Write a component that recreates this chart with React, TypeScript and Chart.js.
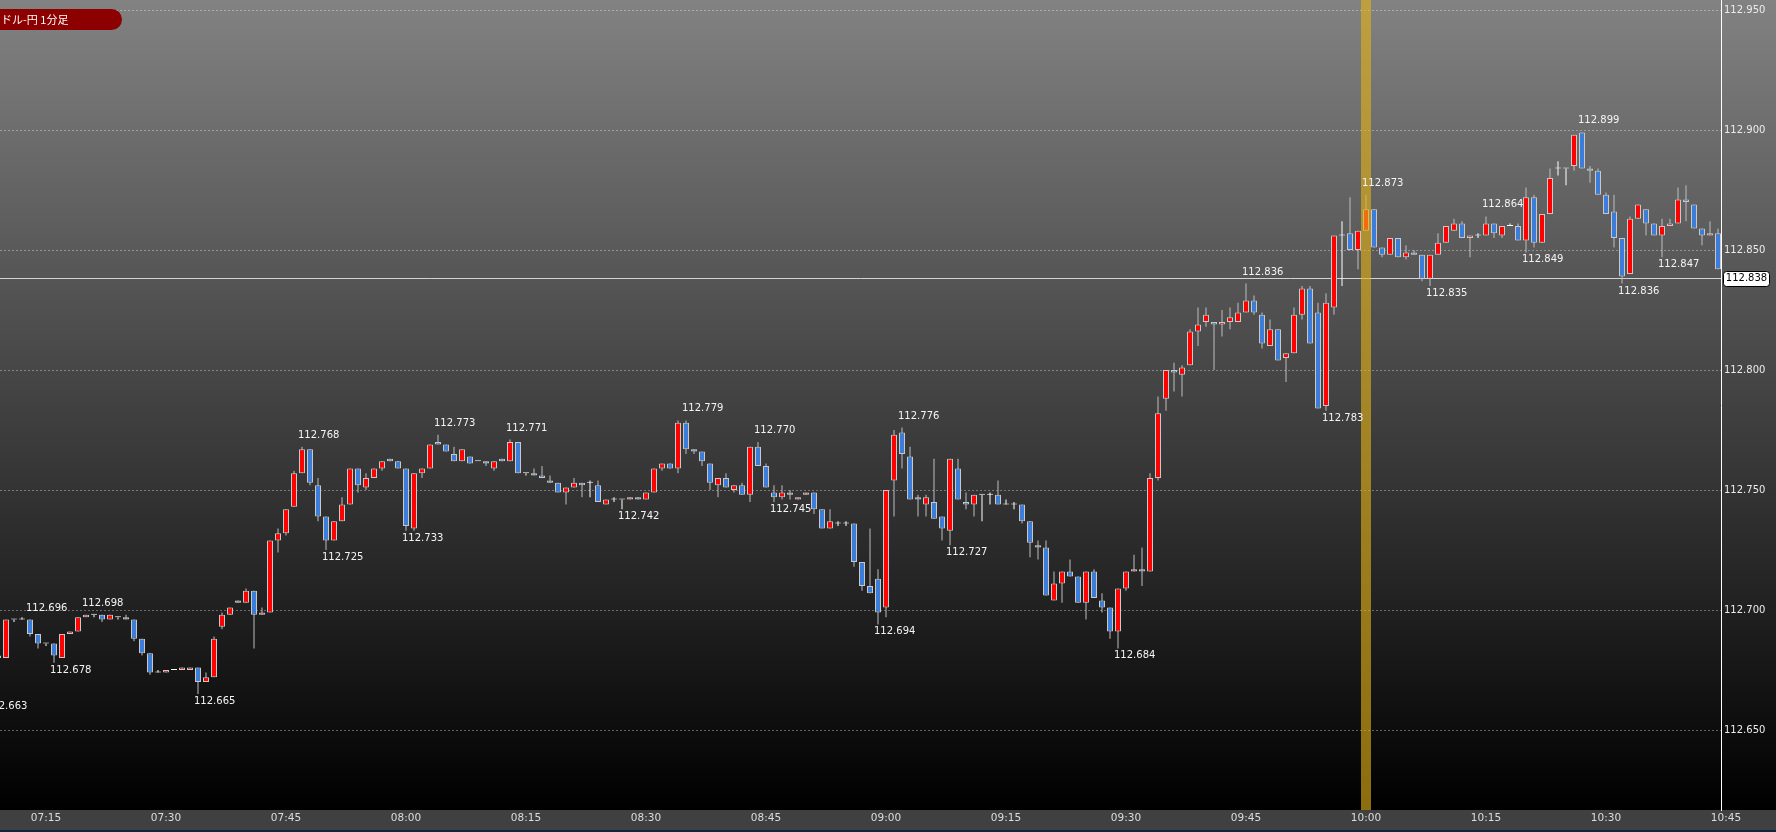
import React, { useEffect, useRef } from 'react';
import { Chart, registerables } from 'chart.js';

Chart.register(...registerables);

// ---- data (1-minute bars, USD/JPY) ----
const FIRST_BAR = '07:09';

const OPENS = [
  112.680,112.680,112.696,112.696,112.696,112.690,112.686,112.686,112.680,112.690,
  112.691,112.697,112.698,112.698,112.696,112.697,112.697,112.696,112.688,112.682,
  112.674,112.674,112.675,112.675,112.675,112.676,112.670,112.672,112.693,112.698,
  112.704,112.703,112.708,112.698,112.699,112.729,112.732,112.743,112.757,112.767,
  112.752,112.739,112.729,112.737,112.744,112.759,112.751,112.755,112.759,112.763,
  112.762,112.759,112.734,112.757,112.759,112.770,112.769,112.765,112.762,112.764,
  112.762,112.762,112.759,112.763,112.762,112.770,112.757,112.757,112.756,112.754,
  112.753,112.749,112.751,112.753,112.753,112.752,112.744,112.746,112.746,112.746,
  112.747,112.746,112.749,112.759,112.761,112.759,112.778,112.767,112.766,112.761,
  112.752,112.755,112.750,112.752,112.748,112.768,112.760,112.749,112.747,112.749,
  112.746,112.748,112.749,112.742,112.734,112.736,112.736,112.736,112.720,112.710,
  112.713,112.701,112.754,112.774,112.764,112.747,112.744,112.745,112.739,112.733,
  112.759,112.745,112.744,112.748,112.748,112.748,112.744,112.744,112.744,112.737,
  112.727,112.726,112.704,112.711,112.716,112.714,112.703,112.716,112.704,112.701,
  112.691,112.709,112.716,112.717,112.716,112.755,112.788,112.800,112.798,112.802,
  112.816,112.820,112.820,112.819,112.820,112.820,112.824,112.829,112.823,112.810,
  112.817,112.805,112.807,112.823,112.834,112.824,112.785,112.826,112.856,112.857,
  112.850,112.858,112.867,112.851,112.848,112.855,112.847,112.849,112.848,112.838,
  112.848,112.853,112.858,112.861,112.855,112.856,112.856,112.861,112.856,112.860,
  112.860,112.854,112.872,112.853,112.865,112.884,112.884,112.885,112.899,112.884,
  112.883,112.873,112.866,112.855,112.840,112.863,112.867,112.861,112.856,112.860,
  112.861,112.871,112.869,112.859,112.856,112.857,
];

const HIGHS = [
  112.682,112.696,112.696,112.697,112.696,112.690,112.686,112.686,112.690,112.691,
  112.697,112.698,112.698,112.698,112.698,112.697,112.698,112.696,112.688,112.682,
  112.675,112.675,112.675,112.676,112.676,112.676,112.674,112.689,112.699,112.701,
  112.704,112.709,112.708,112.701,112.729,112.734,112.742,112.758,112.768,112.767,
  112.755,112.739,112.737,112.747,112.759,112.759,112.757,112.759,112.762,112.763,
  112.762,112.759,112.757,112.759,112.769,112.773,112.769,112.768,112.767,112.764,
  112.762,112.762,112.762,112.763,112.771,112.770,112.757,112.759,112.760,112.756,
  112.753,112.751,112.755,112.753,112.754,112.754,112.746,112.747,112.746,112.747,
  112.747,112.749,112.759,112.761,112.761,112.779,112.779,112.767,112.766,112.761,
  112.755,112.757,112.752,112.753,112.768,112.770,112.761,112.752,112.752,112.750,
  112.747,112.749,112.749,112.742,112.742,112.737,112.737,112.736,112.720,112.734,
  112.717,112.750,112.775,112.776,112.768,112.748,112.748,112.763,112.739,112.763,
  112.763,112.749,112.748,112.748,112.749,112.754,112.746,112.745,112.744,112.737,
  112.729,112.729,112.716,112.716,112.721,112.714,112.716,112.717,112.707,112.701,
  112.709,112.716,112.723,112.726,112.757,112.789,112.800,112.803,112.802,112.817,
  112.826,112.826,112.820,112.825,112.826,112.828,112.836,112.831,112.824,112.821,
  112.817,112.807,112.826,112.835,112.835,112.828,112.832,112.856,112.862,112.872,
  112.858,112.873,112.867,112.851,112.855,112.855,112.852,112.850,112.848,112.848,
  112.857,112.860,112.863,112.862,112.856,112.857,112.864,112.861,112.860,112.861,
  112.861,112.876,112.873,112.865,112.884,112.887,112.884,112.898,112.899,112.885,
  112.884,112.874,112.873,112.855,112.864,112.869,112.867,112.861,112.863,112.863,
  112.876,112.877,112.869,112.859,112.862,112.859,
];

const LOWS = [
  112.679,112.680,112.695,112.696,112.689,112.684,112.685,112.678,112.680,112.690,
  112.691,112.697,112.697,112.695,112.696,112.696,112.696,112.687,112.681,112.673,
  112.674,112.674,112.675,112.675,112.675,112.665,112.670,112.672,112.692,112.698,
  112.703,112.703,112.684,112.698,112.699,112.724,112.731,112.743,112.757,112.752,
  112.737,112.725,112.729,112.737,112.744,112.749,112.750,112.755,112.758,112.762,
  112.759,112.733,112.733,112.755,112.759,112.769,112.766,112.762,112.762,112.761,
  112.762,112.760,112.758,112.762,112.762,112.757,112.756,112.756,112.755,112.753,
  112.749,112.744,112.751,112.747,112.747,112.745,112.744,112.745,112.742,112.746,
  112.746,112.746,112.749,112.758,112.759,112.757,112.765,112.765,112.760,112.750,
  112.747,112.751,112.749,112.748,112.745,112.760,112.751,112.745,112.746,112.746,
  112.746,112.748,112.740,112.734,112.734,112.735,112.735,112.718,112.708,112.707,
  112.694,112.697,112.739,112.759,112.746,112.739,112.739,112.738,112.729,112.727,
  112.746,112.742,112.739,112.737,112.744,112.744,112.744,112.742,112.736,112.722,
  112.721,112.706,112.704,112.703,112.714,112.703,112.696,112.705,112.699,112.688,
  112.684,112.708,112.716,112.710,112.716,112.754,112.783,112.791,112.789,112.802,
  112.810,112.818,112.800,112.814,112.817,112.820,112.824,112.823,112.809,112.810,
  112.804,112.795,112.807,112.821,112.811,112.784,112.783,112.823,112.835,112.850,
  112.842,112.858,112.851,112.847,112.848,112.847,112.846,112.848,112.837,112.835,
  112.848,112.853,112.858,112.855,112.847,112.855,112.856,112.855,112.855,112.860,
  112.854,112.849,112.851,112.853,112.865,112.881,112.877,112.883,112.884,112.878,
  112.873,112.865,112.851,112.836,112.840,112.863,112.856,112.856,112.847,112.860,
  112.861,112.862,112.859,112.852,112.856,112.842,
];

const CLOSES = [
  112.681,112.696,112.696,112.696,112.690,112.686,112.686,112.681,112.690,112.691,
  112.697,112.698,112.698,112.696,112.698,112.697,112.696,112.688,112.682,112.674,
  112.674,112.675,112.675,112.676,112.676,112.670,112.672,112.688,112.698,112.701,
  112.703,112.708,112.698,112.699,112.729,112.732,112.742,112.757,112.767,112.753,
  112.739,112.729,112.737,112.744,112.759,112.752,112.755,112.759,112.762,112.762,
  112.759,112.735,112.757,112.759,112.769,112.769,112.766,112.762,112.767,112.761,
  112.762,112.761,112.762,112.762,112.770,112.757,112.757,112.756,112.755,112.753,
  112.749,112.751,112.753,112.752,112.753,112.745,112.746,112.746,112.746,112.747,
  112.746,112.749,112.759,112.761,112.759,112.778,112.767,112.766,112.762,112.753,
  112.755,112.751,112.752,112.748,112.768,112.760,112.751,112.747,112.749,112.748,
  112.747,112.749,112.742,112.734,112.737,112.736,112.736,112.720,112.710,112.707,
  112.699,112.750,112.773,112.765,112.746,112.746,112.747,112.738,112.734,112.763,
  112.746,112.744,112.748,112.748,112.748,112.744,112.744,112.744,112.737,112.728,
  112.726,112.706,112.711,112.716,112.714,112.703,112.716,112.705,112.701,112.691,
  112.709,112.716,112.717,112.716,112.755,112.782,112.800,112.799,112.801,112.816,
  112.819,112.823,112.819,112.820,112.822,112.824,112.829,112.824,112.811,112.817,
  112.804,112.807,112.823,112.834,112.811,112.784,112.828,112.856,112.856,112.850,
  112.858,112.867,112.851,112.848,112.855,112.847,112.849,112.848,112.838,112.848,
  112.853,112.860,112.861,112.855,112.856,112.856,112.861,112.857,112.860,112.860,
  112.854,112.872,112.853,112.865,112.880,112.884,112.884,112.898,112.884,112.883,
  112.873,112.865,112.855,112.839,112.863,112.869,112.861,112.856,112.860,112.861,
  112.871,112.870,112.859,112.856,112.857,112.842,
];

const X_TICK_LABELS = [
  '07:15','07:30','07:45','08:00','08:15','08:30','08:45','09:00',
  '09:15','09:30','09:45','10:00','10:15','10:30','10:45',
];
const Y_TICKS = [112.65, 112.7, 112.75, 112.8, 112.85, 112.9, 112.95];

const LABEL_TIMES = [
  '07:08','07:13','07:16','07:20','07:34','07:47','07:50','08:00','08:04',
  '08:13','08:27','08:35','08:44','08:46','08:59','09:02','09:08','09:29',
  '09:45','09:55','10:00','10:08','10:15','10:20','10:27','10:32','10:37',
];
const LABEL_VALUES = [
  112.663,112.696,112.678,112.698,112.665,112.768,112.725,112.733,112.773,
  112.771,112.742,112.779,112.770,112.745,112.694,112.776,112.727,112.684,
  112.836,112.783,112.873,112.835,112.864,112.849,112.899,112.836,112.847,
];
const LABEL_SIDES = [
  'low','high','low','high','low','high','low','low','high',
  'high','low','high','high','low','low','high','low','low',
  'high','low','high','low','high','low','high','low','low',
];

const CURRENT_PRICE = 112.838;
const HIGHLIGHT_TIME = '10:00';
const TITLE = 'ドル-円 1分足';

// axis ranges
const X_MIN = 429.25;   // minutes after midnight
const X_MAX = 644.375;
const Y_MIN = 112.6166667;
const Y_MAX = 112.9541667;

const minuteOf = (s: string) => {
  const [h, m] = s.split(':').map(Number);
  return h * 60 + m;
};

const UP = '#ff0000';
const DOWN = '#3b7dd8';
const DOJI = '#ffffff';
const EDGE = '#c8c8c8';
const WICK = '#bdbdbd';
const FONT = 'DejaVu Sans';

export default function App() {
  const ref = useRef<HTMLCanvasElement>(null);

  useEffect(() => {
    const start = minuteOf(FIRST_BAR);
    const xs = OPENS.map((_, i) => start + i);
    const kind = (i: number) =>
      CLOSES[i] > OPENS[i] ? 'up' : CLOSES[i] < OPENS[i] ? 'down' : 'doji';
    const bodyFill = (c: any) => {
      const i = c.dataIndex;
      if (i === undefined) return UP;
      const k = kind(i);
      return k === 'up' ? UP : k === 'down' ? DOWN : DOJI;
    };
    const bodyEdge = (c: any) => {
      const i = c.dataIndex;
      if (i === undefined) return EDGE;
      return kind(i) === 'doji' ? DOJI : EDGE;
    };
    const wickFill = (c: any) => {
      const i = c.dataIndex;
      if (i === undefined) return WICK;
      return kind(i) === 'doji' ? DOJI : WICK;
    };

    const bgPlugin = {
      id: 'bgPlugin',
      beforeDraw(chart: any) {
        const { ctx, width, height, chartArea } = chart;
        ctx.save();
        const g = ctx.createLinearGradient(0, 0, 0, chartArea.bottom);
        g.addColorStop(0, '#828282');
        g.addColorStop(1, '#000000');
        ctx.fillStyle = g;
        ctx.fillRect(0, 0, width, chartArea.bottom);
        ctx.fillStyle = '#404040';
        ctx.fillRect(0, chartArea.bottom, width, height - chartArea.bottom - 2);
        ctx.fillStyle = '#0e2740';
        ctx.fillRect(0, height - 2, width, 2);
        ctx.restore();
      },
      beforeDatasetsDraw(chart: any) {
        const { ctx, chartArea, scales } = chart;
        const y = Math.floor(scales.y.getPixelForValue(CURRENT_PRICE)) + 0.5;
        ctx.save();
        ctx.strokeStyle = '#d4d4d4';
        ctx.lineWidth = 1;
        ctx.beginPath();
        ctx.moveTo(chartArea.left, y);
        ctx.lineTo(chartArea.right, y);
        ctx.stroke();
        ctx.restore();
      },
      afterDatasetsDraw(chart: any) {
        const { ctx, chartArea, scales } = chart;
        ctx.save();
        ctx.font = `10px "${FONT}"`;
        ctx.textAlign = 'left';
        ctx.textBaseline = 'alphabetic';
        ctx.fillStyle = '#f4f4f4';
        LABEL_TIMES.forEach((t, i) => {
          const x = scales.x.getPixelForValue(minuteOf(t)) - 4;
          const yv = scales.y.getPixelForValue(LABEL_VALUES[i]);
          const y = LABEL_SIDES[i] === 'high' ? yv - 9 : yv + 10;
          ctx.fillText(LABEL_VALUES[i].toFixed(3), x, y);
        });
        // current price tag
        const py = scales.y.getPixelForValue(CURRENT_PRICE);
        const bx = chartArea.right + 2.5;
        const bw = 46;
        const bh = 15;
        ctx.beginPath();
        ctx.roundRect(bx, Math.round(py - bh / 2) + 0.5, bw, bh, 3);
        ctx.fillStyle = '#ffffff';
        ctx.fill();
        ctx.strokeStyle = '#000000';
        ctx.lineWidth = 1;
        ctx.stroke();
        ctx.fillStyle = '#000000';
        ctx.textAlign = 'center';
        ctx.textBaseline = 'middle';
        ctx.fillText(CURRENT_PRICE.toFixed(3), bx + bw / 2, py);
        ctx.restore();
      },
    };

    const chart = new Chart(ref.current as HTMLCanvasElement, {
      type: 'bar',
      data: {
        datasets: [
          {
            label: 'highlight',
            data: [{ x: minuteOf(HIGHLIGHT_TIME), y: [Y_MIN, Y_MAX] }],
            backgroundColor: 'rgba(228,178,22,0.62)',
            borderWidth: 0,
            barThickness: 10,
            grouped: false,
            inflateAmount: 0,
            order: 0,
          } as any,
          {
            label: 'body',
            data: xs.map((x, i) => ({ x, y: [OPENS[i], CLOSES[i]] })),
            backgroundColor: bodyFill,
            borderColor: bodyEdge,
            borderWidth: 1,
            borderSkipped: false,
            barThickness: 6,
            minBarLength: 1,
            grouped: false,
            inflateAmount: 0,
            order: 1,
          } as any,
          {
            label: 'wick',
            data: xs.map((x, i) => ({ x, y: [LOWS[i], HIGHS[i]] })),
            backgroundColor: wickFill,
            borderWidth: 0,
            barThickness: 1,
            grouped: false,
            inflateAmount: 0,
            order: 2,
          } as any,
        ],
      },
      options: {
        responsive: false,
        devicePixelRatio: 1,
        animation: false,
        events: [],
        layout: { padding: 0, autoPadding: false },
        plugins: {
          legend: { display: false },
          tooltip: { enabled: false },
        },
        scales: {
          x: {
            type: 'linear',
            position: 'bottom',
            min: X_MIN,
            max: X_MAX,
            offset: false,
            grid: { display: false, drawTicks: false },
            border: { display: false },
            afterBuildTicks: (s: any) => {
              s.ticks = X_TICK_LABELS.map((l) => ({ value: minuteOf(l) }));
            },
            afterFit: (s: any) => {
              s.height = 22;
              s.paddingLeft = 0;
              s.paddingRight = 0;
              s.paddingTop = 0;
              s.paddingBottom = 0;
            },
            ticks: {
              autoSkip: false,
              maxRotation: 0,
              minRotation: 0,
              padding: 2,
              color: '#dcdcdc',
              font: { family: FONT, size: 10.5 },
              callback: (_v: any, i: number) => X_TICK_LABELS[i],
            },
          },
          y: {
            type: 'linear',
            position: 'right',
            min: Y_MIN,
            max: Y_MAX,
            grid: {
              color: 'rgba(255,255,255,0.35)',
              drawTicks: false,
              lineWidth: 1,
            },
            border: { display: true, color: '#ffffff', width: 1, dash: [2, 2] },
            afterBuildTicks: (s: any) => {
              s.ticks = Y_TICKS.map((v) => ({ value: v }));
            },
            afterFit: (s: any) => {
              s.width = 55;
              s.paddingLeft = 0;
              s.paddingRight = 0;
              s.paddingTop = 0;
              s.paddingBottom = 0;
            },
            ticks: {
              padding: 3,
              color: '#ececec',
              font: { family: FONT, size: 10 },
              callback: (v: any) => Number(v).toFixed(3),
            },
          },
        },
      } as any,
      plugins: [bgPlugin],
    });

    return () => chart.destroy();
  }, []);

  return (
    <div
      style={{
        position: 'fixed',
        left: 0,
        top: 0,
        width: 1776,
        height: 832,
        overflow: 'hidden',
        background: '#000',
      }}
    >
      <canvas
        ref={ref}
        width={1776}
        height={832}
        style={{ display: 'block', width: 1776, height: 832 }}
      />
      <div
        style={{
          position: 'absolute',
          left: 0,
          top: 9,
          width: 122,
          height: 21,
          background: '#8c0000',
          borderRadius: '0 11px 11px 0',
          color: '#ffffff',
          fontFamily: '"Noto Sans CJK JP", sans-serif',
          fontSize: 11,
          lineHeight: '21px',
          paddingLeft: 1,
          boxSizing: 'border-box',
          whiteSpace: 'nowrap',
        }}
      >
        {TITLE}
      </div>
    </div>
  );
}
